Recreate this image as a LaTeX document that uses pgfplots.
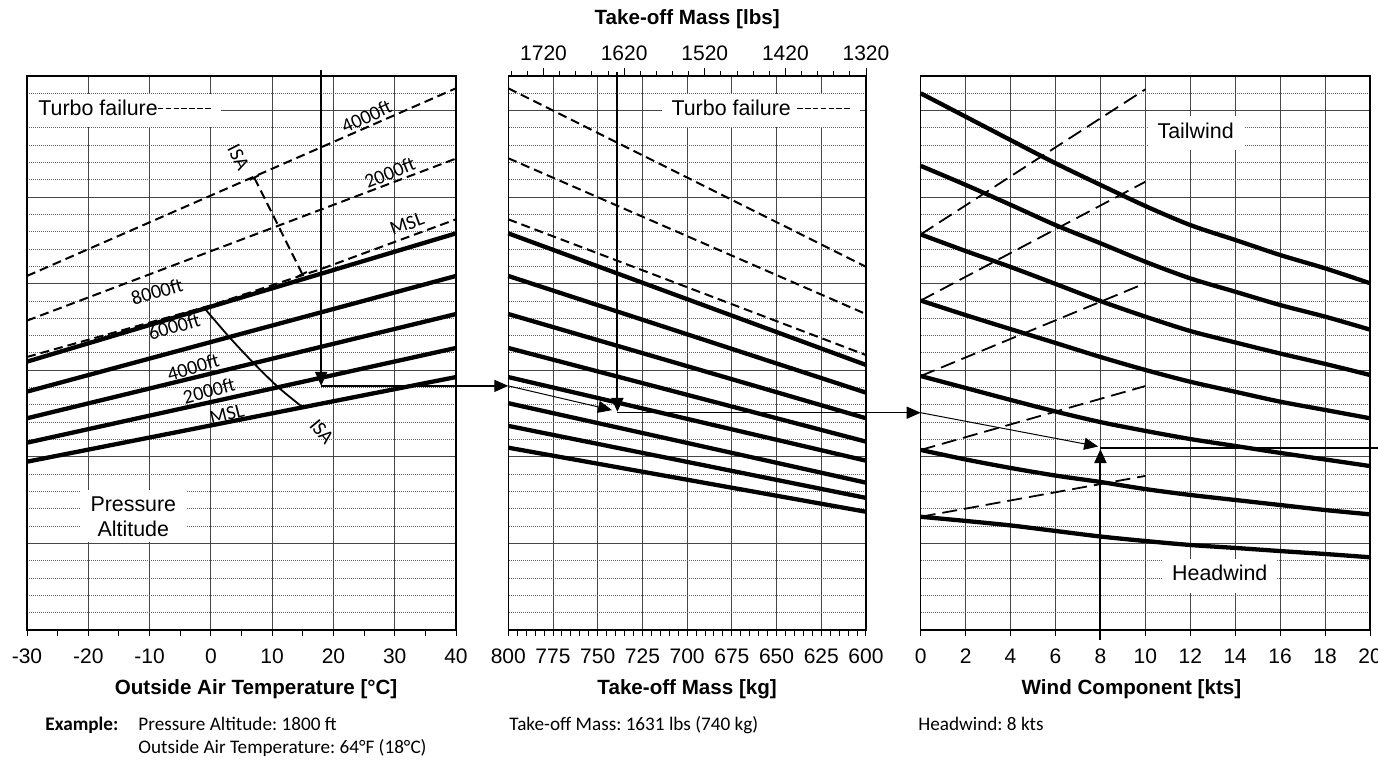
\documentclass[border=0pt]{standalone}
\usepackage{fontspec}
\setmainfont{Liberation Sans}
\newfontfamily\calib{Carlito}
\usepackage{pgfplots}
\usepackage{pgfplotstable}
\pgfplotsset{compat=1.18}
\usetikzlibrary{arrows.meta}
\frenchspacing

% guide curves of the wind panel (y in chart units)
\pgfplotstableread{
w  c1    c2    c3    c4    c5    c6    c7
0  31.00 26.81 22.85 19.03 14.67 10.40 6.54
2  29.65 25.71 21.89 18.19 13.98 9.85  6.30
4  28.30 24.56 20.97 17.38 13.29 9.36  6.04
6  26.96 23.39 19.99 16.58 12.62 8.92  5.72
8  25.71 22.34 19.00 15.77 12.01 8.55  5.40
10 24.49 21.27 18.10 15.02 11.50 8.14  5.14
12 23.39 20.31 17.27 14.34 11.03 7.80  4.91
14 22.53 19.54 16.61 13.76 10.63 7.51  4.74
16 21.66 18.77 15.97 13.19 10.23 7.22  4.56
18 20.89 18.10 15.37 12.71 9.85  6.93  4.39
20 20.03 17.35 14.73 12.23 9.47  6.68  4.20
}\windtab

\newcommand\dsh{\rule[0.3em]{0.27em}{0.065em}\hspace{0.1em}}

\pgfplotsset{
  panel/.style={
    scale only axis, height=277pt, ymin=0, ymax=32, clip=false,
    ytick={0,5,...,30},
    minor ytick={1,2,3,4,6,7,8,9,11,12,13,14,16,17,18,19,21,22,23,24,26,27,28,29,31},
    yticklabels={}, ymajorgrids, yminorgrids, xmajorgrids,
    y tick style={draw=none}, minor y tick style={draw=none},
    major grid style={black!72, line width=0.5pt},
    minor grid style={black!62, line width=0.5pt, dash pattern=on 0.5pt off 0.5pt},
    axis line style={black, line width=0.6pt},
    tick align=outside, xtick pos=left,
    x tick style={black, line width=0.5pt},
    major tick length=3pt, minor tick length=3pt,
    tick label style={font=\fontsize{10.5}{12}\selectfont},
    xticklabel style={anchor=north, text height=0.72em, text depth=0pt, yshift=-3pt},
    xlabel style={font=\bfseries\fontsize{10.3}{12}\selectfont, anchor=center},
  },
  ref/.style={black, line width=2.15pt, line join=round},
  turbo/.style={black, line width=1pt, dash pattern=on 4.5pt off 2.5pt},
  guide/.style={black, line width=0.9pt, dash pattern=on 7.5pt off 3.5pt},
  exv/.style={black, line width=1pt, -{Triangle[length=7pt,width=6pt]}},
  exh/.style={black, line width=0.7pt, -{Triangle[length=7pt,width=6pt]}},
  exd/.style={black, line width=0.5pt, -{Triangle[length=7pt,width=6pt]}},
}
\tikzset{
  lbl/.style={fill=white, inner xsep=5pt, inner ysep=3.4pt, text height=0.75em, text depth=0.25em,
    font=\fontsize{10.7}{12.5}\selectfont},
  alt/.style={font=\calib\fontsize{10}{12}\selectfont, inner sep=0.5pt},
  note/.style={anchor=base west, inner sep=0pt, font=\calib\fontsize{9.6}{11}\selectfont},
}

\begin{document}
\begin{tikzpicture}
% ---------------- temperature panel ----------------
\begin{axis}[panel, at={(13.5pt,65pt)}, anchor=south west, width=214.5pt,
  xmin=-30, xmax=40, xtick={-30,-20,-10,0,10,20,30,40},
  xticklabels={-30,-20,-10,0,10,20,30,40},
  minor xtick={-25,-15,-5,5,15,25,35},
  xlabel={Outside Air Temperature [°C]},
  xlabel style={at={(axis description cs:0.534,-0.107)}}]
  \node[lbl, anchor=west] at (axis cs:-29.84,30) {Turbo failure\dsh\dsh\dsh\dsh\dsh\dsh\dsh};
  \node[lbl, align=center, text height=, text depth=, inner xsep=5.5pt, inner ysep=3pt]
    at (axis cs:-12.65,6.56) {Pressure\\Altitude};
  \node[alt, rotate=17] at (axis cs:-6.0,17.52) {6000ft};
  % turbo failure lines
  \addplot[turbo] coordinates {(-30,20.45) (40,31.29)};
  \addplot[turbo] coordinates {(-30,17.87) (40,27.23)};
  \addplot[turbo] coordinates {(-30,15.77) (0,18.75) (18,20.85) (40,23.72)};
  % pressure altitude lines
  \addplot[ref] coordinates {(-30,15.50) (40,22.91)};
  \addplot[ref] coordinates {(-30,13.77) (40,20.45)};
  \addplot[ref] coordinates {(-30,12.23) (40,18.25)};
  \addplot[ref] coordinates {(-30,10.82) (40,16.29)};
  \addplot[ref] coordinates {(-30,9.72) (40,14.61)};
  % ISA lines
  \addplot[black, line width=1pt, dash pattern=on 4.5pt off 2.5pt, {Bar[width=5pt]}-{Bar[width=5pt]}]
    coordinates {(7,26.18) (11,23.35) (15,20.50)};
  \addplot[black, line width=0.9pt, smooth] coordinates {(-1,18.57) (3,16.92) (7,15.41) (11,14.02) (15,12.86)};
  \node[alt, rotate=25] at (axis cs:25.4,29.65) {4000ft};
  \node[alt, rotate=22] at (axis cs:29.2,26.41) {2000ft};
  \node[alt, rotate=20] at (axis cs:32.0,23.45) {MSL};
  \node[alt, rotate=17] at (axis cs:-8.8,19.54) {8000ft};
  \node[alt, rotate=16] at (axis cs:-2.9,15.17) {4000ft};
  \node[alt, rotate=15] at (axis cs:-0.3,13.82) {2000ft};
  \node[alt, rotate=14] at (axis cs:2.6,12.48) {MSL};
  \node[alt, rotate=-63] at (axis cs:4.5,27.3) {ISA};
  \node[alt, rotate=-50] at (axis cs:18.1,11.45) {ISA};
  % example
  \addplot[exv] coordinates {(18,32.35) (18,14.1)};
  \addplot[exh] coordinates {(18,14.1) (48.53,14.1)};
\end{axis}

% ---------------- mass panel ----------------
\begin{axis}[panel, at={(254.15pt,65pt)}, anchor=south west, width=178.85pt,
  xmin=600, xmax=800, x dir=reverse,
  xtick={600,625,650,675,700,725,750,775,800},
  xticklabels={600,625,650,675,700,725,750,775,800},
  minor xtick={605,610,...,795},
  xlabel={Take-off Mass [kg]},
  xlabel style={at={(axis description cs:0.5,-0.107)}}]
  \node[lbl] at (axis cs:658.8,30) {Turbo failure \dsh\dsh\dsh\dsh\dsh\dsh\dsh};
  \addplot[turbo] coordinates {(800,31.29) (600,20.98)};
  \addplot[turbo] coordinates {(800,27.25) (600,18.25)};
  \addplot[turbo] coordinates {(800,23.72) (600,15.88)};
  \addplot[ref] coordinates {(800,22.91) (600,15.31)};
  \addplot[ref] coordinates {(800,20.45) (600,13.71)};
  \addplot[ref] coordinates {(800,18.25) (600,12.23)};
  \addplot[ref] coordinates {(800,16.29) (600,10.88)};
  \addplot[ref] coordinates {(800,14.61) (600,9.78)};
  \addplot[ref] coordinates {(800,13.10) (600,8.51)};
  \addplot[ref] coordinates {(800,11.79) (600,7.63)};
  \addplot[ref] coordinates {(800,10.53) (600,6.83)};
  % example
  \addplot[exd] coordinates {(800,14.1) (742,12.7)};
  \addplot[exv] coordinates {(739,32.25) (739,12.6)};
  \addplot[exh] coordinates {(739,12.55) (569.4,12.55)};
\end{axis}
% mass in pounds along the top
\begin{axis}[scale only axis, at={(254.15pt,65pt)}, anchor=south west, width=178.85pt, height=277pt,
  xmin=1320, xmax=1763.7, x dir=reverse, ymin=0, ymax=1,
  axis x line=top, axis y line=none, x axis line style={-, black, line width=0.6pt},
  tick align=outside, major tick length=4pt, minor tick length=2.5pt,
  x tick style={black, line width=0.5pt},
  xtick={1320,1420,1520,1620,1720}, xticklabels={1320,1420,1520,1620,1720},
  minor xtick={1340,1360,...,1760},
  tick label style={font=\fontsize{10.5}{12}\selectfont},
  xticklabel style={text height=0.72em, text depth=0pt},
  xlabel={Take-off Mass [lbs]},
  xlabel style={font=\bfseries\fontsize{10.3}{12}\selectfont, anchor=center, at={(axis description cs:0.5,1.1025)}}]
\end{axis}

% ---------------- wind panel ----------------
\begin{axis}[panel, at={(460.35pt,65pt)}, anchor=south west, width=224.65pt,
  xmin=0, xmax=20, xtick={0,2,...,20},
  xticklabels={0,2,4,6,8,10,12,14,16,18,20},
  xlabel={Wind Component [kts]},
  xlabel style={at={(axis description cs:0.469,-0.107)}}]
  \node[lbl, anchor=west] at (axis cs:10.08,28.7) {Tailwind\hspace{11pt}};
  \node[lbl, anchor=west] at (axis cs:10.73,3.12) {Headwind\hspace{3pt}};
  \addplot[guide] coordinates {(0,22.85) (10,31.23)};
  \addplot[guide] coordinates {(0,19.03) (10,25.89)};
  \addplot[guide] coordinates {(0,14.67) (10,20.03)};
  \addplot[guide] coordinates {(0,10.40) (10,14.09)};
  \addplot[guide] coordinates {(0,6.54) (10,8.90)};
  \foreach \c in {c1,c2,c3,c4,c5,c6,c7}{
    \addplot[ref, smooth, tension=0.5] table[x=w, y=\c] {\windtab};
  }
  % example
  \addplot[exd] coordinates {(0,12.55) (7.9,10.6)};
  \addplot[exv] coordinates {(8,-0.58) (8,10.45)};
  \addplot[exh, -] coordinates {(8,10.52) (21,10.52)};
\end{axis}

% example notes
\node[note, font=\calib\bfseries\fontsize{9.6}{11}\selectfont] at (22.5pt,14.65pt) {Example:};
\node[note] at (69pt,14.65pt) {Pressure Altitude: 1800 ft};
\node[note] at (69pt,3.35pt) {Outside Air Temperature: 64°F (18°C)};
\node[note] at (254.5pt,14.65pt) {Take-off Mass: 1631 lbs (740 kg)};
\node[note] at (459pt,14.65pt) {Headwind: 8 kts};

\pgfresetboundingbox
\useasboundingbox (0pt,0pt) rectangle (689pt,380pt);
\end{tikzpicture}
\end{document}
